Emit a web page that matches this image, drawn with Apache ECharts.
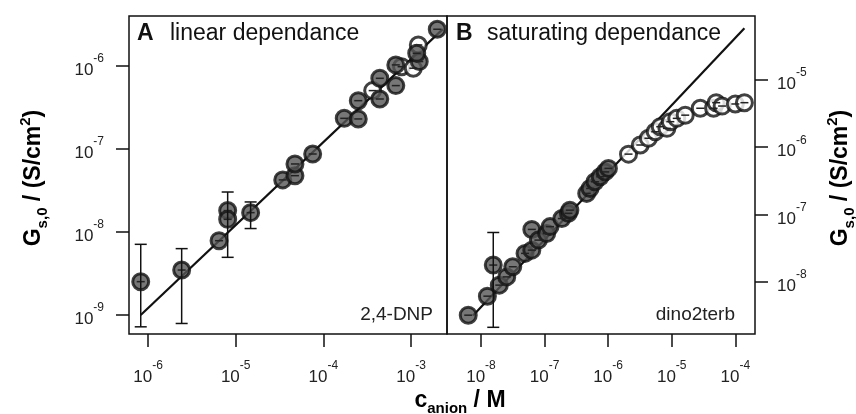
<!DOCTYPE html>
<html>
<head>
<meta charset="utf-8">
<script src="https://cdn.jsdelivr.net/npm/echarts@6/dist/echarts.min.js"></script>
<style>
  html, body { margin: 0; padding: 0; background: #fff; }
  #chart { width: 856px; height: 414px; }
</style>
</head>
<body>
<div id="chart"></div>
<script>
// ---- panel A: 2,4-DNP (linear dependance) ----
const aFilledC = [8.26e-7, 2.42e-6, 6.46e-6, 8.1e-6, 8.1e-6, 1.48e-5, 3.44e-5, 4.74e-5, 4.74e-5, 7.55e-5,
  1.73e-4, 2.5e-4, 2.5e-4, 4.4e-4, 4.4e-4, 6.7e-4, 6.7e-4, 1.24e-3, 1.16e-3, 1.99e-3];
const aFilledG = [2.52e-9, 3.48e-9, 7.85e-9, 1.81e-8, 1.42e-8, 1.71e-8, 4.24e-8, 4.77e-8, 6.6e-8, 8.7e-8,
  2.34e-7, 2.3e-7, 3.82e-7, 4.0e-7, 7.1e-7, 5.8e-7, 1.03e-6, 1.13e-6, 1.42e-6, 2.77e-6];
const aOpenC = [3.65e-4, 7.8e-4, 1.06e-3, 1.21e-3];
const aOpenG = [5.05e-7, 9.8e-7, 9.4e-7, 1.79e-6];
const aErrC = [8.26e-7, 2.42e-6, 8.1e-6, 1.48e-5];
const aErrLo = [7.2e-10, 7.9e-10, 4.95e-9, 1.1e-8];
const aErrHi = [7.1e-9, 6.3e-9, 3.03e-8, 2.3e-8];
const aFitC = [8.26e-7, 2.3e-3];
const aFitG = [1.0e-9, 2.78e-6];

// ---- panel B: dino2terb (saturating dependance) ----
const bFilledC = [6.3e-9, 1.26e-8, 1.56e-8, 1.94e-8, 2.54e-8, 3.16e-8, 4.93e-8, 6.3e-8, 6.3e-8, 8.0e-8,
  1.08e-7, 1.22e-7, 1.87e-7, 2.37e-7, 2.5e-7, 4.6e-7, 5.2e-7, 6.2e-7, 7.5e-7, 8.97e-7, 1.01e-6];
const bFilledG = [3.18e-9, 6.1e-9, 1.77e-8, 8.9e-9, 1.18e-8, 1.67e-8, 2.64e-8, 2.95e-8, 6.0e-8, 4.16e-8,
  5.2e-8, 6.6e-8, 8.7e-8, 1.04e-7, 1.16e-7, 2.06e-7, 2.44e-7, 3.07e-7, 3.64e-7, 4.3e-7, 4.85e-7];
const bOpenC = [2.09e-6, 3.2e-6, 4.3e-6, 5.5e-6, 6.6e-6, 8.4e-6, 9.5e-6, 1.2e-5, 1.63e-5, 2.81e-5,
  4.55e-5, 5.0e-5, 6.2e-5, 1.0e-4, 1.39e-4];
const bOpenG = [7.9e-7, 1.08e-6, 1.36e-6, 1.7e-6, 2.02e-6, 1.91e-6, 2.4e-6, 2.69e-6, 3.0e-6, 3.8e-6,
  3.8e-6, 4.6e-6, 4.1e-6, 4.4e-6, 4.6e-6];
const bErrC = [1.56e-8];
const bErrLo = [2.1e-9];
const bErrHi = [5.4e-8];
const bFitC = [7.5e-9, 1.39e-4];
const bFitG = [3.15e-9, 5.87e-5];

// tick labels
const aTicksX = [1e-6, 1e-5, 1e-4, 1e-3];
const aTicksY = [1e-9, 1e-8, 1e-7, 1e-6];
const bTicksX = [1e-8, 1e-7, 1e-6, 1e-5, 1e-4];
const bTicksY = [1e-8, 1e-7, 1e-6, 1e-5];

const FONT = 'Liberation Sans, Arial, Helvetica, sans-serif';

const zip = (xs, ys) => xs.map((x, i) => [x, ys[i]]);
const zip3 = (xs, lo, hi) => xs.map((x, i) => [x, lo[i], hi[i]]);

const powLabel = {
  formatter: v => '{b|10}{s|' + Math.round(Math.log10(v)) + '}',
  rich: {
    b: { fontSize: 17, fontFamily: FONT, color: '#222', lineHeight: 26, verticalAlign: 'bottom' },
    s: { fontSize: 12, fontFamily: FONT, color: '#222', lineHeight: 8, verticalAlign: 'top' }
  }
};

const makeAxis = (gridIndex, min, max, ticks, labelExtra, extra) => Object.assign({
  gridIndex,
  type: 'log',
  logBase: 10,
  min,
  max,
  axisLine: { show: false },
  splitLine: { show: false },
  minorTick: { show: false },
  axisTick: { show: true, length: 13, customValues: ticks, lineStyle: { color: '#111', width: 1.5 } },
  axisLabel: Object.assign({ customValues: ticks, margin: 26 }, powLabel, labelExtra || {})
}, extra || {});

const renderErr = (params, api) => {
  const hi = api.coord([api.value(0), api.value(2)]);
  const lo = api.coord([api.value(0), api.value(1)]);
  const w = 6;
  const st = { stroke: '#111', lineWidth: 1.5 };
  return {
    type: 'group',
    children: [
      { type: 'line', shape: { x1: hi[0], y1: hi[1], x2: lo[0], y2: lo[1] }, style: st },
      { type: 'line', shape: { x1: hi[0] - w, y1: hi[1], x2: hi[0] + w, y2: hi[1] }, style: st },
      { type: 'line', shape: { x1: lo[0] - w, y1: lo[1], x2: lo[0] + w, y2: lo[1] }, style: st }
    ]
  };
};

// small horizontal bar drawn inside every marker
const renderBar = (params, api) => {
  const p = api.coord([api.value(0), api.value(1)]);
  return {
    type: 'line',
    shape: { x1: p[0] - 4, y1: p[1], x2: p[0] + 4, y2: p[1] },
    style: { stroke: '#222', lineWidth: 1.5 }
  };
};

const filledStyle = { color: '#555', borderColor: '#111', borderWidth: 3 };
const openStyle = { color: '#fff', borderColor: '#111', borderWidth: 3 };

const panelSeries = (idx, fitC, fitG, openC, openG, fillC, fillG, errC, errLo, errHi) => [
  {
    type: 'line', xAxisIndex: idx, yAxisIndex: idx, data: zip(fitC, fitG),
    showSymbol: false, silent: true, lineStyle: { color: '#111', width: 2.2 }, z: 2
  },
  {
    type: 'scatter', xAxisIndex: idx, yAxisIndex: idx, data: zip(openC, openG),
    symbolSize: 16, itemStyle: openStyle, z: 3
  },
  {
    type: 'scatter', xAxisIndex: idx, yAxisIndex: idx, data: zip(fillC, fillG),
    symbolSize: 16, itemStyle: filledStyle, z: 4
  },
  {
    type: 'custom', xAxisIndex: idx, yAxisIndex: idx,
    data: zip(openC, openG).concat(zip(fillC, fillG)),
    encode: { x: 0, y: 1 }, renderItem: renderBar, silent: true, z: 5
  },
  {
    type: 'custom', xAxisIndex: idx, yAxisIndex: idx, data: zip3(errC, errLo, errHi),
    encode: { x: 0, y: [1, 2] }, renderItem: renderErr, z: 6
  }
];

const titleRich = {
  m: { fontSize: 23, fontWeight: 'bold', fontFamily: FONT, color: '#111', lineHeight: 32, verticalAlign: 'middle' },
  sub: { fontSize: 15, fontWeight: 'bold', fontFamily: FONT, color: '#111', lineHeight: 14, verticalAlign: 'bottom' },
  sup: { fontSize: 15, fontWeight: 'bold', fontFamily: FONT, color: '#111', lineHeight: 14, verticalAlign: 'top' }
};
const yTitle = '{m|G}{sub|s,0}{m| / (S/cm}{sup|2}{m|)}';

const chart = echarts.init(document.getElementById('chart'), null, { renderer: 'canvas' });

chart.setOption({
  animation: false,
  backgroundColor: '#fff',
  grid: [
    { left: 129, top: 16, width: 318, height: 318, show: true, borderColor: '#111', borderWidth: 1.5 },
    { left: 447, top: 16, width: 308, height: 318, show: true, borderColor: '#111', borderWidth: 1.5 }
  ],
  xAxis: [
    makeAxis(0, 6.07e-7, 2.57e-3, aTicksX),
    makeAxis(1, 2.92e-9, 2.04e-4, bTicksX)
  ],
  yAxis: [
    makeAxis(0, 5.9e-10, 4.0e-6, aTicksY, { margin: 25 }),
    makeAxis(1, 1.67e-9, 8.95e-5, bTicksY, { margin: 22 }, { position: 'right' })
  ],
  series: [
    ...panelSeries(0, aFitC, aFitG, aOpenC, aOpenG, aFilledC, aFilledG, aErrC, aErrLo, aErrHi),
    ...panelSeries(1, bFitC, bFitG, bOpenC, bOpenG, bFilledC, bFilledG, bErrC, bErrLo, bErrHi)
  ],
  graphic: [
    { type: 'text', x: 137, y: 34, style: { text: 'A', font: 'bold 23px ' + FONT, fill: '#111', verticalAlign: 'middle' } },
    { type: 'text', x: 170, y: 34, style: { text: 'linear dependance', font: '23px ' + FONT, fill: '#111', verticalAlign: 'middle' } },
    { type: 'text', x: 456, y: 34, style: { text: 'B', font: 'bold 23px ' + FONT, fill: '#111', verticalAlign: 'middle' } },
    { type: 'text', x: 487, y: 34, style: { text: 'saturating dependance', font: '23px ' + FONT, fill: '#111', verticalAlign: 'middle' } },
    { type: 'text', x: 433, y: 315, style: { text: '2,4-DNP', font: '19px ' + FONT, fill: '#222', align: 'right', verticalAlign: 'middle' } },
    { type: 'text', x: 735, y: 315, style: { text: 'dino2terb', font: '19px ' + FONT, fill: '#222', align: 'right', verticalAlign: 'middle' } },
    {
      type: 'text', x: 34, y: 178, rotation: Math.PI / 2,
      style: { text: yTitle, rich: titleRich, align: 'center', verticalAlign: 'middle' }
    },
    {
      type: 'text', x: 841, y: 178, rotation: Math.PI / 2,
      style: { text: yTitle, rich: titleRich, align: 'center', verticalAlign: 'middle' }
    },
    {
      type: 'text', x: 460, y: 401,
      style: {
        text: '{m|c}{sub|anion}{m| / M}',
        rich: {
          m: { fontSize: 23, fontWeight: 'bold', fontFamily: FONT, color: '#111', lineHeight: 30, verticalAlign: 'middle' },
          sub: { fontSize: 15, fontWeight: 'bold', fontFamily: FONT, color: '#111', lineHeight: 14, verticalAlign: 'bottom' }
        },
        align: 'center', verticalAlign: 'middle'
      }
    }
  ]
});
</script>
</body>
</html>
